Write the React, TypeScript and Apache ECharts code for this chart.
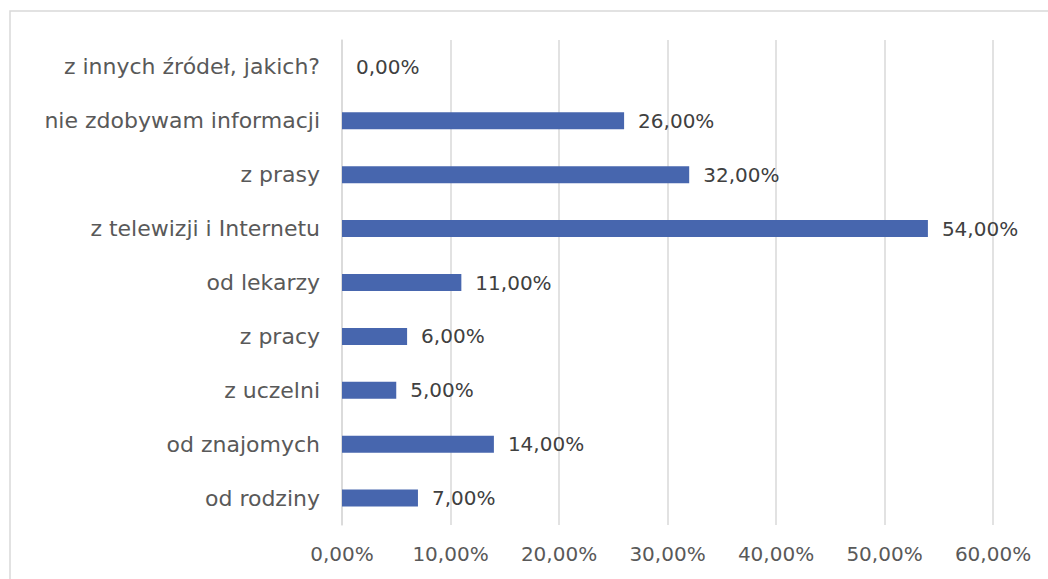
import React, { useEffect, useRef } from "react";
import * as echarts from "echarts";

const categories = [
  "od rodziny",
  "od znajomych",
  "z uczelni",
  "z pracy",
  "od lekarzy",
  "z telewizji i Internetu",
  "z prasy",
  "nie zdobywam informacji",
  "z innych źródeł, jakich?",
];
const values = [7, 14, 5, 6, 11, 54, 32, 26, 0];
const axisMin = 0;
const axisMax = 60;
const axisInterval = 10;

const fmt = (v: number) => v.toFixed(2).replace(".", ",") + "%";
const FONT = "'DejaVu Sans', sans-serif";

export default function App() {
  const ref = useRef<HTMLDivElement>(null);
  useEffect(() => {
    document.body.style.margin = "0";
    const chart = echarts.init(ref.current!, null, { renderer: "svg" });
    chart.setOption({
      animation: false,
      backgroundColor: "#ffffff",
      graphic: [
        {
          type: "rect",
          shape: { x: 10, y: 11, width: 1200, height: 800 },
          style: { fill: "none", stroke: "#d9d9d9", lineWidth: 1.5 },
          silent: true,
        },
      ],
      grid: { left: 342, right: 55, top: 40, bottom: 54, containLabel: false },
      xAxis: {
        type: "value",
        min: axisMin,
        max: axisMax,
        interval: axisInterval,
        axisLine: { show: false },
        axisTick: { show: false },
        splitLine: { show: true, lineStyle: { color: "#d9d9d9", width: 1.5 } },
        axisLabel: {
          formatter: (v: number) => fmt(v),
          color: "#595959",
          fontSize: 20,
          fontFamily: FONT,
          margin: 19,
        },
      },
      yAxis: {
        type: "category",
        data: categories,
        axisLine: { show: true, lineStyle: { color: "#d9d9d9", width: 1.5 } },
        axisTick: { show: false },
        axisLabel: {
          color: "#595959",
          fontSize: 22,
          fontFamily: FONT,
          margin: 22,
        },
      },
      series: [
        {
          type: "bar",
          data: values,
          barWidth: 17,
          itemStyle: { color: "#4766ae" },
          label: {
            show: true,
            position: "right",
            distance: 14,
            formatter: (p: any) => fmt(p.value),
            color: "#404040",
            fontSize: 20,
            fontFamily: FONT,
          },
        },
      ],
    });
    return () => chart.dispose();
  }, []);
  return <div ref={ref} style={{ width: 1048, height: 579 }} />;
}
